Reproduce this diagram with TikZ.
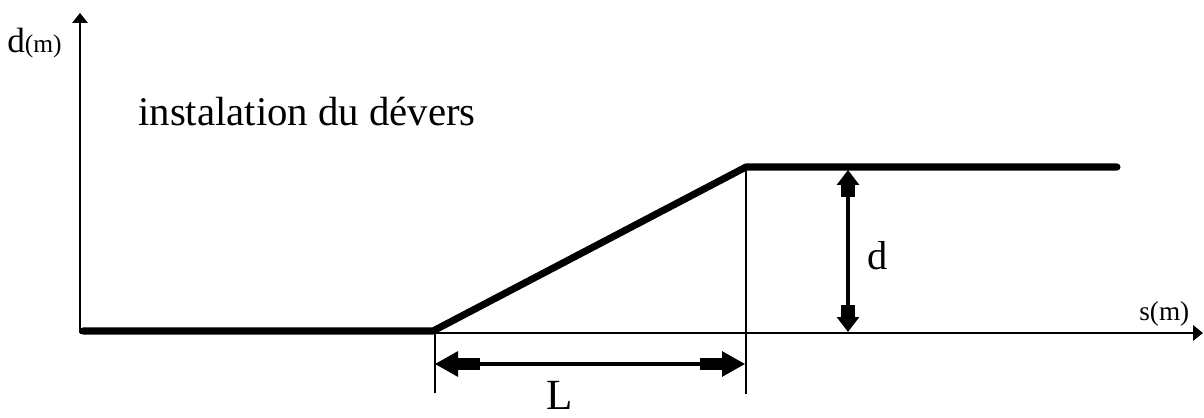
\documentclass[tikz,border=0pt]{standalone}
\usepackage{fontspec}
\setmainfont{Liberation Serif}
\usetikzlibrary{arrows.meta}
\begin{document}
\begin{tikzpicture}[x=0.02cm,y=-0.02cm,
  axistip/.style={-{Triangle[length=0.2cm,width=0.31cm]}},
  thin axis/.style={line width=1pt,black},
  thick curve/.style={line width=4pt,black,line cap=round,line join=round},
  guide/.style={line width=0.9pt,black},
  dimL/.style={line width=1.8pt,black,
    {Triangle[length=0.46cm,width=0.5cm,sep=0pt]Rectangle[length=0.44cm,width=0.24cm,sep=0pt]}-{Rectangle[length=0.44cm,width=0.24cm,sep=0pt]Triangle[length=0.46cm,width=0.5cm,sep=0pt]}},
  dimD/.style={line width=1.8pt,black,
    {Triangle[length=0.3cm,width=0.44cm,sep=0pt]Rectangle[length=0.24cm,width=0.28cm,sep=0pt]}-{Rectangle[length=0.24cm,width=0.28cm,sep=0pt]Triangle[length=0.3cm,width=0.44cm,sep=0pt]}},
  lbl/.style={inner sep=0pt}]
\useasboundingbox (0,0) rectangle (1204,418);
% coordinates
\coordinate (O) at (80,333);
\coordinate (Ytop) at (80,13);
\coordinate (Xend) at (1203,333);
\coordinate (A0) at (83,331);
\coordinate (A1) at (433,331);
\coordinate (B1) at (746,167);
\coordinate (B2) at (1117,167);
\coordinate (G1t) at (435,333);
\coordinate (G1b) at (435,393);
\coordinate (G2b) at (746,394);
\coordinate (La) at (435,364);
\coordinate (Lb) at (745,364);
\coordinate (Da) at (848,170);
\coordinate (Db) at (848,332);
% axes
\draw[thin axis,axistip] (O) -- (Ytop);
\draw[thin axis,axistip] (O) -- (Xend);
% guides
\draw[guide] (G1t) -- (G1b);
\draw[guide] (B1) -- (G2b);
% curve
\draw[thick curve] (A0) -- (A1) -- (B1) -- (B2);
% dimensions
\draw[dimL] (La) -- (Lb);
\draw[dimD] (Da) -- (Db);
% labels
\node[lbl,anchor=base west,font=\fontsize{23.2pt}{26pt}\selectfont] (title) at (138,126) {instalation du dévers};
\node[lbl,anchor=base,font=\fontsize{24.5pt}{28pt}\selectfont] (Llab) at (560,410) {L};
\node[lbl,anchor=base west,font=\fontsize{23pt}{26pt}\selectfont] (dlab) at (867,270) {d};
\node[lbl,anchor=base west,font=\fontsize{20pt}{22pt}\selectfont] (ylab) at (7,53) {d\fontsize{14.5pt}{16pt}\selectfont(m)};
\node[lbl,anchor=base west,font=\fontsize{15.5pt}{18pt}\selectfont] (xlab) at (1139,321) {s(m)};
\end{tikzpicture}
\end{document}
